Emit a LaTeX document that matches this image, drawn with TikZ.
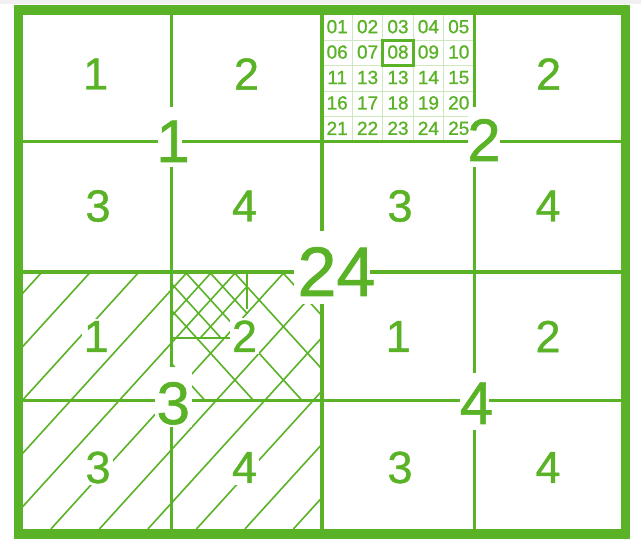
\documentclass[tikz,border=0pt]{standalone}
\usepackage{fontspec}
\setmainfont{Liberation Sans}
\newfontfamily\lblfont{Liberation Sans}[FakeBold=1]
\definecolor{grn}{RGB}{90,178,38}
\definecolor{lgrn}{RGB}{205,232,190}
\begin{document}
\begin{tikzpicture}[x=1pt,y=-1pt,
  frame/.style={draw=grn,line width=9.5pt},
  major/.style={draw=grn,line width=4pt},
  minor/.style={draw=grn,line width=3pt},
  subline/.style={draw=grn,line width=2pt},
  hatch/.style={draw=grn,line width=1.6pt},
  cellline/.style={draw=lgrn,line width=1pt},
  cellbox/.style={draw=grn,line width=3pt},
  gap/.style={fill=white},
  small/.style={text=grn,fill=white,inner sep=2pt,font=\lblfont\fontsize{45}{45}\selectfont},
  big/.style={text=grn,inner sep=0pt,anchor=base,font=\lblfont\fontsize{60}{60}\selectfont},
  huge/.style={text=grn,inner sep=0pt,anchor=base,font=\lblfont\fontsize{70}{70}\selectfont},
  cellnum/.style={text=grn,inner sep=0pt,font=\lblfont\fontsize{19}{19}\selectfont},
]
\useasboundingbox (0,0) rectangle (641,540);
\fill[white] (0,0) rectangle (641,540);
\fill[black!6] (0,0) rectangle (641,4.5);

% single hatch over quadrant 3
\begin{scope}
\clip (23,272) rectangle (322,529);
\foreach \k in {-5,...,12} {\draw[hatch] ({42+48.5*\k},272) -- ++(-233.6,257);}
\end{scope}
% cross hatch over sub-square 2 of quadrant 3
\begin{scope}
\clip (171,272) rectangle (322,401);
\foreach \k in {-3,...,5} {\draw[hatch] ({88.2+48.5*\k},272) -- ++(117.3,129);}
\end{scope}
% dense cross hatch
\begin{scope}
\clip (171,272) rectangle (247,338);
\foreach \k in {0,...,6} {\draw[hatch] ({66.25+48.5*\k},272) -- ++(-233.6,257);}
\foreach \k in {-2,...,4} {\draw[hatch] ({112.45+48.5*\k},272) -- ++(117.3,129);}
\end{scope}
\draw[subline] (247,272) -- (247,309);
\draw[subline] (171,338) -- (232,338);

% 5x5 cell grid
\foreach \i in {1,...,4} {\draw[cellline] ({322+30.4*\i},15) -- ({322+30.4*\i},142);}
\foreach \j in {1,...,4} {\draw[cellline] (322,{15+25.4*\j}) -- (474,{15+25.4*\j});}
\draw[cellbox] (382.8,40.4) rectangle (413.2,65.8);

% quarter lines
\draw[minor] (171,15) -- (171,529);
\draw[minor] (474,15) -- (474,529);
\draw[minor] (23,142) -- (621,142);
\draw[minor] (23,401) -- (621,401);
% centre cross
\draw[major] (322,15) -- (322,529);
\draw[major] (23,272) -- (621,272);
% outer frame
\draw[frame] (18.5,10) rectangle (625.5,534);

% gaps behind the large labels
\fill[gap] (158,107) rectangle (182,167);
\fill[gap] (468,107) rectangle (500,167);
\fill[gap] (155,367) rectangle (192,427);
\fill[gap] (460,373) rectangle (489,430);
\fill[gap] (294,231) rectangle (370,304);

% large labels
\node[big] (Q1) at (173,162) {1};
\node[big] (Q2) at (484,161) {2};
\node[big] (Q3) at (173.3,424) {3};
\node[big] (Q4) at (476.5,424) {4};
\node[huge] (Q24) at (336.5,296) {24};

% small labels
\node[small] (a1) at (95.7,74) {1};
\node[small] (a2) at (246.5,74) {2};
\node[small] (a3) at (98,206) {3};
\node[small] (a4) at (244.5,206) {4};
\node[small] (b2) at (548.6,74) {2};
\node[small] (b3) at (400,206) {3};
\node[small] (b4) at (548,206) {4};
\node[small] (c1) at (96.2,336.5) {1};
\node[small] (c2) at (244.5,336.2) {2};
\node[small] (c3) at (98,467.5) {3};
\node[small] (c4) at (244.5,467.5) {4};
\node[small] (d1) at (398.3,336.5) {1};
\node[small] (d2) at (548,336.5) {2};
\node[small] (d3) at (400,467.5) {3};
\node[small] (d4) at (548,467.5) {4};

% cell numbers
\foreach \t [count=\i from 0] in {01,02,03,04,05,06,07,08,09,10,11,13,13,14,15,16,17,18,19,20,21,22,23,24,25} {
  \pgfmathtruncatemacro\col{mod(\i,5)}
  \pgfmathtruncatemacro\row{div(\i,5)}
  \node[cellnum] (g\i) at ({337.2+30.4*\col},{26.7+25.4*\row}) {\t};
}
\end{tikzpicture}
\end{document}
